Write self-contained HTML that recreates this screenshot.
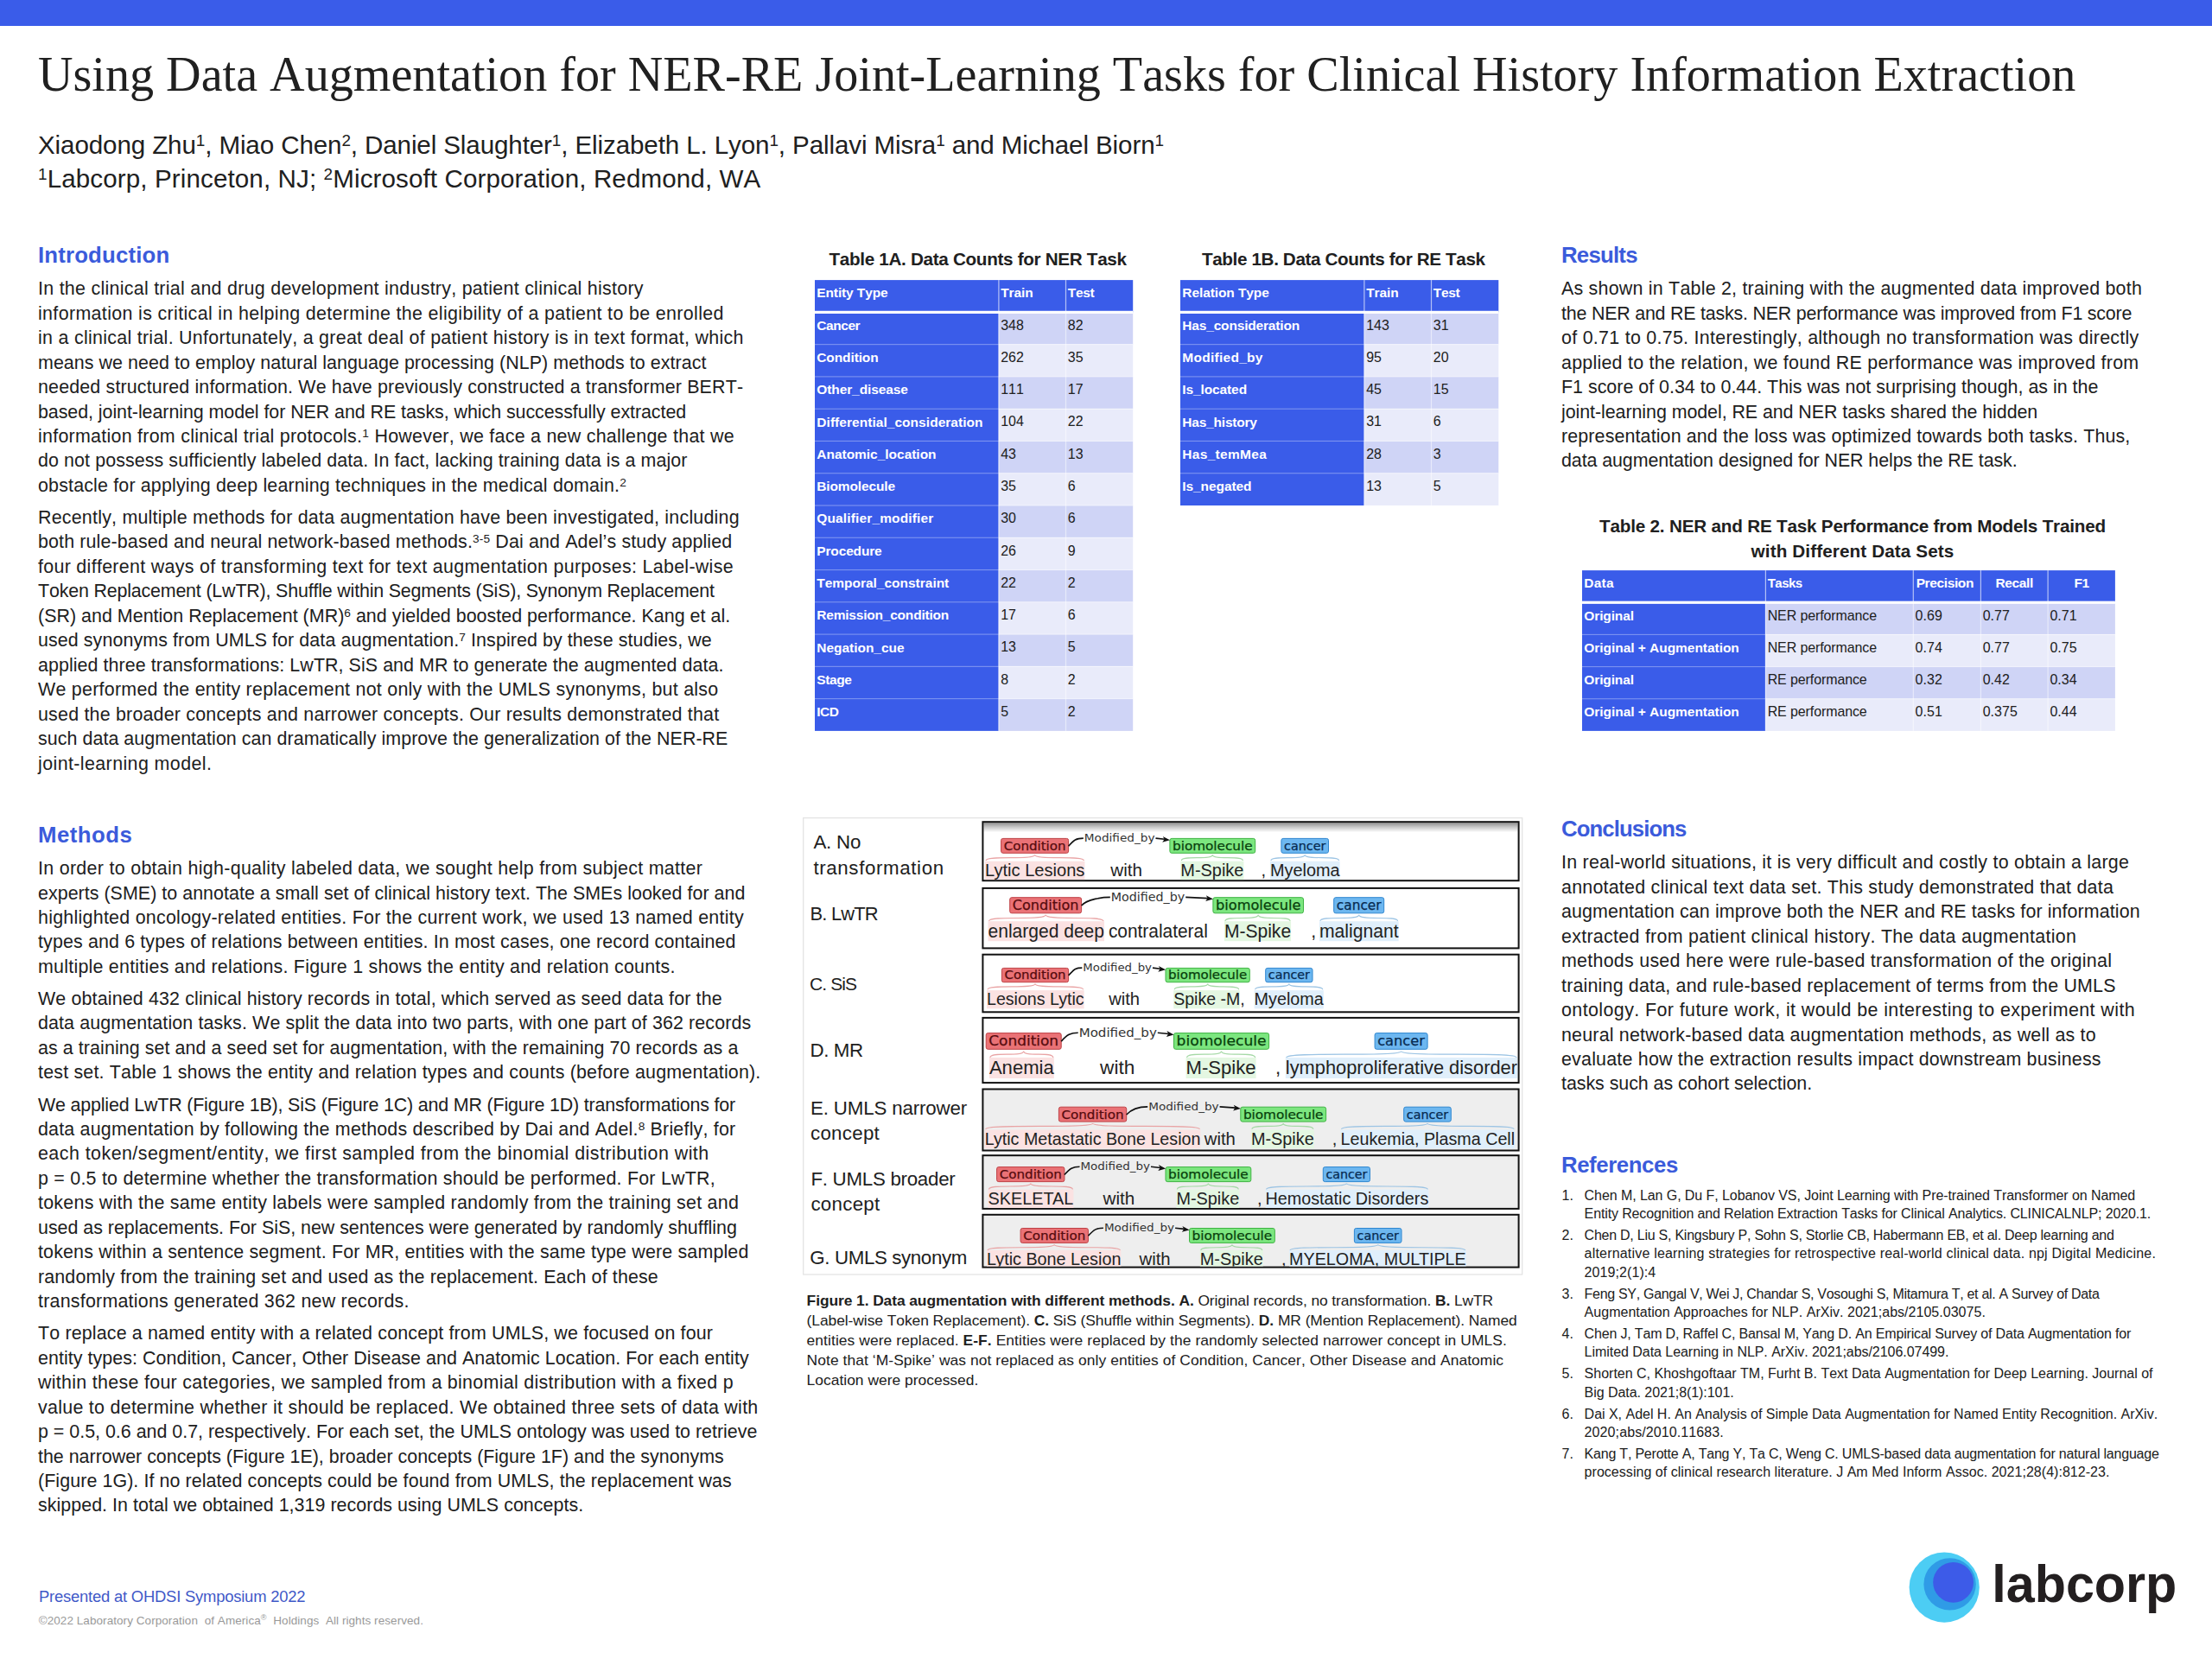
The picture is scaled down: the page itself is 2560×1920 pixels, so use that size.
<!DOCTYPE html>
<html lang="en"><head><meta charset="utf-8"><title>Using Data Augmentation for NER-RE Joint-Learning Tasks</title>
<style>
html,body{margin:0;padding:0;background:#fff;}
body{width:2560px;height:1920px;position:relative;overflow:hidden;font-family:'Liberation Sans', sans-serif;color:#202020;}
.t{position:absolute;white-space:nowrap;font-kerning:none;font-variant-ligatures:none;}
.r{position:absolute;}
sup{font-size:64%;line-height:0;vertical-align:baseline;position:relative;top:-0.45em;}
sup.reg{font-size:68%;top:-0.5em;padding:0;}
.fl{z-index:3;}
b{font-weight:bold;}
</style></head>
<body>
<svg style="position:absolute;left:900px;top:300px" width="1600" height="580" viewBox="900 300 1600 580"><rect x="943.00" y="324.10" width="368.20" height="37.27" fill="#3A5CE9"/><rect x="943.00" y="361.37" width="212.90" height="484.53" fill="#3A5CE9"/><rect x="1155.90" y="361.37" width="155.30" height="37.27" fill="#CFD4F6"/><rect x="1155.90" y="398.64" width="155.30" height="37.27" fill="#E9EBFA"/><rect x="1155.90" y="435.91" width="155.30" height="37.27" fill="#CFD4F6"/><rect x="1155.90" y="473.19" width="155.30" height="37.27" fill="#E9EBFA"/><rect x="1155.90" y="510.46" width="155.30" height="37.27" fill="#CFD4F6"/><rect x="1155.90" y="547.73" width="155.30" height="37.27" fill="#E9EBFA"/><rect x="1155.90" y="585.00" width="155.30" height="37.27" fill="#CFD4F6"/><rect x="1155.90" y="622.27" width="155.30" height="37.27" fill="#E9EBFA"/><rect x="1155.90" y="659.54" width="155.30" height="37.27" fill="#CFD4F6"/><rect x="1155.90" y="696.81" width="155.30" height="37.27" fill="#E9EBFA"/><rect x="1155.90" y="734.09" width="155.30" height="37.27" fill="#CFD4F6"/><rect x="1155.90" y="771.36" width="155.30" height="37.27" fill="#E9EBFA"/><rect x="1155.90" y="808.63" width="155.30" height="37.27" fill="#CFD4F6"/><rect x="943.00" y="398.09" width="212.90" height="1.1" fill="#fff" fill-opacity="0.34"/><rect x="1155.90" y="398.09" width="155.30" height="1.1" fill="#fff" fill-opacity="0.5"/><rect x="943.00" y="435.36" width="212.90" height="1.1" fill="#fff" fill-opacity="0.34"/><rect x="1155.90" y="435.36" width="155.30" height="1.1" fill="#fff" fill-opacity="0.5"/><rect x="943.00" y="472.64" width="212.90" height="1.1" fill="#fff" fill-opacity="0.34"/><rect x="1155.90" y="472.64" width="155.30" height="1.1" fill="#fff" fill-opacity="0.5"/><rect x="943.00" y="509.91" width="212.90" height="1.1" fill="#fff" fill-opacity="0.34"/><rect x="1155.90" y="509.91" width="155.30" height="1.1" fill="#fff" fill-opacity="0.5"/><rect x="943.00" y="547.18" width="212.90" height="1.1" fill="#fff" fill-opacity="0.34"/><rect x="1155.90" y="547.18" width="155.30" height="1.1" fill="#fff" fill-opacity="0.5"/><rect x="943.00" y="584.45" width="212.90" height="1.1" fill="#fff" fill-opacity="0.34"/><rect x="1155.90" y="584.45" width="155.30" height="1.1" fill="#fff" fill-opacity="0.5"/><rect x="943.00" y="621.72" width="212.90" height="1.1" fill="#fff" fill-opacity="0.34"/><rect x="1155.90" y="621.72" width="155.30" height="1.1" fill="#fff" fill-opacity="0.5"/><rect x="943.00" y="658.99" width="212.90" height="1.1" fill="#fff" fill-opacity="0.34"/><rect x="1155.90" y="658.99" width="155.30" height="1.1" fill="#fff" fill-opacity="0.5"/><rect x="943.00" y="696.26" width="212.90" height="1.1" fill="#fff" fill-opacity="0.34"/><rect x="1155.90" y="696.26" width="155.30" height="1.1" fill="#fff" fill-opacity="0.5"/><rect x="943.00" y="733.54" width="212.90" height="1.1" fill="#fff" fill-opacity="0.34"/><rect x="1155.90" y="733.54" width="155.30" height="1.1" fill="#fff" fill-opacity="0.5"/><rect x="943.00" y="770.81" width="212.90" height="1.1" fill="#fff" fill-opacity="0.34"/><rect x="1155.90" y="770.81" width="155.30" height="1.1" fill="#fff" fill-opacity="0.5"/><rect x="943.00" y="808.08" width="212.90" height="1.1" fill="#fff" fill-opacity="0.34"/><rect x="1155.90" y="808.08" width="155.30" height="1.1" fill="#fff" fill-opacity="0.5"/><rect x="1155.30" y="324.10" width="1.2" height="37.27" fill="#fff" fill-opacity="0.62"/><rect x="1155.30" y="361.37" width="1.2" height="484.53" fill="#fff" fill-opacity="0.62"/><rect x="1232.90" y="324.10" width="1.2" height="37.27" fill="#fff" fill-opacity="0.62"/><rect x="1232.90" y="361.37" width="1.2" height="484.53" fill="#fff" fill-opacity="0.5"/><rect x="943.00" y="359.77" width="368.20" height="3.2" fill="#fff"/><rect x="1366.00" y="324.10" width="368.30" height="37.27" fill="#3A5CE9"/><rect x="1366.00" y="361.37" width="212.90" height="223.63" fill="#3A5CE9"/><rect x="1578.90" y="361.37" width="155.40" height="37.27" fill="#CFD4F6"/><rect x="1578.90" y="398.64" width="155.40" height="37.27" fill="#E9EBFA"/><rect x="1578.90" y="435.91" width="155.40" height="37.27" fill="#CFD4F6"/><rect x="1578.90" y="473.19" width="155.40" height="37.27" fill="#E9EBFA"/><rect x="1578.90" y="510.46" width="155.40" height="37.27" fill="#CFD4F6"/><rect x="1578.90" y="547.73" width="155.40" height="37.27" fill="#E9EBFA"/><rect x="1366.00" y="398.09" width="212.90" height="1.1" fill="#fff" fill-opacity="0.34"/><rect x="1578.90" y="398.09" width="155.40" height="1.1" fill="#fff" fill-opacity="0.5"/><rect x="1366.00" y="435.36" width="212.90" height="1.1" fill="#fff" fill-opacity="0.34"/><rect x="1578.90" y="435.36" width="155.40" height="1.1" fill="#fff" fill-opacity="0.5"/><rect x="1366.00" y="472.64" width="212.90" height="1.1" fill="#fff" fill-opacity="0.34"/><rect x="1578.90" y="472.64" width="155.40" height="1.1" fill="#fff" fill-opacity="0.5"/><rect x="1366.00" y="509.91" width="212.90" height="1.1" fill="#fff" fill-opacity="0.34"/><rect x="1578.90" y="509.91" width="155.40" height="1.1" fill="#fff" fill-opacity="0.5"/><rect x="1366.00" y="547.18" width="212.90" height="1.1" fill="#fff" fill-opacity="0.34"/><rect x="1578.90" y="547.18" width="155.40" height="1.1" fill="#fff" fill-opacity="0.5"/><rect x="1578.30" y="324.10" width="1.2" height="37.27" fill="#fff" fill-opacity="0.62"/><rect x="1578.30" y="361.37" width="1.2" height="223.63" fill="#fff" fill-opacity="0.62"/><rect x="1655.90" y="324.10" width="1.2" height="37.27" fill="#fff" fill-opacity="0.62"/><rect x="1655.90" y="361.37" width="1.2" height="223.63" fill="#fff" fill-opacity="0.5"/><rect x="1366.00" y="359.77" width="368.30" height="3.2" fill="#fff"/><rect x="1831.00" y="660.10" width="616.90" height="37.16" fill="#3A5CE9"/><rect x="1831.00" y="697.26" width="212.40" height="148.64" fill="#3A5CE9"/><rect x="2043.40" y="697.26" width="404.50" height="37.16" fill="#CFD4F6"/><rect x="2043.40" y="734.42" width="404.50" height="37.16" fill="#E9EBFA"/><rect x="2043.40" y="771.58" width="404.50" height="37.16" fill="#CFD4F6"/><rect x="2043.40" y="808.74" width="404.50" height="37.16" fill="#E9EBFA"/><rect x="1831.00" y="733.87" width="212.40" height="1.1" fill="#fff" fill-opacity="0.34"/><rect x="2043.40" y="733.87" width="404.50" height="1.1" fill="#fff" fill-opacity="0.5"/><rect x="1831.00" y="771.03" width="212.40" height="1.1" fill="#fff" fill-opacity="0.34"/><rect x="2043.40" y="771.03" width="404.50" height="1.1" fill="#fff" fill-opacity="0.5"/><rect x="1831.00" y="808.19" width="212.40" height="1.1" fill="#fff" fill-opacity="0.34"/><rect x="2043.40" y="808.19" width="404.50" height="1.1" fill="#fff" fill-opacity="0.5"/><rect x="2042.80" y="660.10" width="1.2" height="37.16" fill="#fff" fill-opacity="0.62"/><rect x="2042.80" y="697.26" width="1.2" height="148.64" fill="#fff" fill-opacity="0.62"/><rect x="2213.70" y="660.10" width="1.2" height="37.16" fill="#fff" fill-opacity="0.62"/><rect x="2213.70" y="697.26" width="1.2" height="148.64" fill="#fff" fill-opacity="0.5"/><rect x="2291.80" y="660.10" width="1.2" height="37.16" fill="#fff" fill-opacity="0.62"/><rect x="2291.80" y="697.26" width="1.2" height="148.64" fill="#fff" fill-opacity="0.5"/><rect x="2369.50" y="660.10" width="1.2" height="37.16" fill="#fff" fill-opacity="0.62"/><rect x="2369.50" y="697.26" width="1.2" height="148.64" fill="#fff" fill-opacity="0.5"/><rect x="1831.00" y="695.66" width="616.90" height="3.2" fill="#fff"/></svg>
<div class="r" style="left:0.00px;top:0.00px;width:2560.00px;height:30.00px;background:#3A5CE9;"></div>
<div class="t" id="L1" style="left:44.00px;top:54.74px;font-size:56.13px;line-height:63.64px;font-family:'Liberation Serif', serif;letter-spacing:0.000px;">Using Data Augmentation for NER-RE Joint-Learning Tasks for Clinical History Information Extraction</div>
<div class="t" id="L2" style="left:44.00px;top:149.87px;font-size:29.57px;line-height:36.96px;letter-spacing:-0.109px;">Xiaodong Zhu<sup>1</sup>, Miao Chen<sup>2</sup>, Daniel Slaughter<sup>1</sup>, Elizabeth L. Lyon<sup>1</sup>, Pallavi Misra<sup>1</sup> and Michael Biorn<sup>1</sup></div>
<div class="t" id="L3" style="left:44.00px;top:188.77px;font-size:29.57px;line-height:36.96px;letter-spacing:0.116px;"><sup>1</sup>Labcorp, Princeton, NJ; <sup>2</sup>Microsoft Corporation, Redmond, WA</div>
<div class="t" id="L4" style="left:44.00px;top:279.16px;font-size:25.78px;line-height:33.22px;color:#3B5BDB;font-weight:bold;letter-spacing:0.176px;">Introduction</div>
<div class="t" id="L5" style="left:44.00px;top:321.29px;font-size:21.42px;line-height:26.78px;letter-spacing:0.278px;">In the clinical trial and drug development industry, patient clinical history</div>
<div class="t" id="L6" style="left:44.00px;top:349.74px;font-size:21.42px;line-height:26.78px;letter-spacing:0.353px;">information is critical in helping determine the eligibility of a patient to be enrolled</div>
<div class="t" id="L7" style="left:44.00px;top:378.19px;font-size:21.42px;line-height:26.78px;letter-spacing:0.290px;">in a clinical trial. Unfortunately, a great deal of patient history is in text format, which</div>
<div class="t" id="L8" style="left:44.00px;top:406.64px;font-size:21.42px;line-height:26.78px;letter-spacing:0.064px;">means we need to employ natural language processing (NLP) methods to extract</div>
<div class="t" id="L9" style="left:44.00px;top:435.09px;font-size:21.42px;line-height:26.78px;letter-spacing:0.162px;">needed structured information. We have previously constructed a transformer BERT-</div>
<div class="t" id="L10" style="left:44.00px;top:463.54px;font-size:21.42px;line-height:26.78px;letter-spacing:-0.054px;">based, joint-learning model for NER and RE tasks, which successfully extracted</div>
<div class="t" id="L11" style="left:44.00px;top:491.99px;font-size:21.42px;line-height:26.78px;letter-spacing:0.268px;">information from clinical trial protocols.<sup>1</sup> However, we face a new challenge that we</div>
<div class="t" id="L12" style="left:44.00px;top:520.44px;font-size:21.42px;line-height:26.78px;letter-spacing:0.095px;">do not possess sufficiently labeled data. In fact, lacking training data is a major</div>
<div class="t" id="L13" style="left:44.00px;top:548.89px;font-size:21.42px;line-height:26.78px;letter-spacing:0.168px;">obstacle for applying deep learning techniques in the medical domain.<sup>2</sup></div>
<div class="t" id="L14" style="left:44.00px;top:586.04px;font-size:21.42px;line-height:26.78px;letter-spacing:0.221px;">Recently, multiple methods for data augmentation have been investigated, including</div>
<div class="t" id="L15" style="left:44.00px;top:614.49px;font-size:21.42px;line-height:26.78px;letter-spacing:0.139px;">both rule-based and neural network-based methods.<sup>3-5</sup> Dai and Adel’s study applied</div>
<div class="t" id="L16" style="left:44.00px;top:642.94px;font-size:21.42px;line-height:26.78px;letter-spacing:0.308px;">four different ways of transforming text for text augmentation purposes: Label-wise</div>
<div class="t" id="L17" style="left:44.00px;top:671.39px;font-size:21.42px;line-height:26.78px;letter-spacing:-0.173px;">Token Replacement (LwTR), Shuffle within Segments (SiS), Synonym Replacement</div>
<div class="t" id="L18" style="left:44.00px;top:699.84px;font-size:21.42px;line-height:26.78px;letter-spacing:0.029px;">(SR) and Mention Replacement (MR)<sup>6</sup> and yielded boosted performance. Kang et al.</div>
<div class="t" id="L19" style="left:44.00px;top:728.29px;font-size:21.42px;line-height:26.78px;letter-spacing:0.092px;">used synonyms from UMLS for data augmentation.<sup>7</sup> Inspired by these studies, we</div>
<div class="t" id="L20" style="left:44.00px;top:756.74px;font-size:21.42px;line-height:26.78px;letter-spacing:0.072px;">applied three transformations: LwTR, SiS and MR to generate the augmented data.</div>
<div class="t" id="L21" style="left:44.00px;top:785.19px;font-size:21.42px;line-height:26.78px;letter-spacing:0.260px;">We performed the entity replacement not only with the UMLS synonyms, but also</div>
<div class="t" id="L22" style="left:44.00px;top:813.64px;font-size:21.42px;line-height:26.78px;letter-spacing:0.207px;">used the broader concepts and narrower concepts. Our results demonstrated that</div>
<div class="t" id="L23" style="left:44.00px;top:842.09px;font-size:21.42px;line-height:26.78px;letter-spacing:0.060px;">such data augmentation can dramatically improve the generalization of the NER-RE</div>
<div class="t" id="L24" style="left:44.00px;top:870.54px;font-size:21.42px;line-height:26.78px;letter-spacing:0.406px;">joint-learning model.</div>
<div class="t" id="L25" style="left:44.00px;top:950.36px;font-size:25.78px;line-height:33.22px;color:#3B5BDB;font-weight:bold;letter-spacing:0.498px;">Methods</div>
<div class="t" id="L26" style="left:44.00px;top:992.09px;font-size:21.42px;line-height:26.78px;letter-spacing:0.304px;">In order to obtain high-quality labeled data, we sought help from subject matter</div>
<div class="t" id="L27" style="left:44.00px;top:1020.54px;font-size:21.42px;line-height:26.78px;letter-spacing:0.039px;">experts (SME) to annotate a small set of clinical history text. The SMEs looked for and</div>
<div class="t" id="L28" style="left:44.00px;top:1048.99px;font-size:21.42px;line-height:26.78px;letter-spacing:0.263px;">highlighted oncology-related entities. For the current work, we used 13 named entity</div>
<div class="t" id="L29" style="left:44.00px;top:1077.44px;font-size:21.42px;line-height:26.78px;letter-spacing:0.138px;">types and 6 types of relations between entities. In most cases, one record contained</div>
<div class="t" id="L30" style="left:44.00px;top:1105.89px;font-size:21.42px;line-height:26.78px;letter-spacing:0.240px;">multiple entities and relations. Figure 1 shows the entity and relation counts.</div>
<div class="t" id="L31" style="left:44.00px;top:1143.04px;font-size:21.42px;line-height:26.78px;letter-spacing:0.148px;">We obtained 432 clinical history records in total, which served as seed data for the</div>
<div class="t" id="L32" style="left:44.00px;top:1171.49px;font-size:21.42px;line-height:26.78px;letter-spacing:0.117px;">data augmentation tasks. We split the data into two parts, with one part of 362 records</div>
<div class="t" id="L33" style="left:44.00px;top:1199.94px;font-size:21.42px;line-height:26.78px;letter-spacing:0.085px;">as a training set and a seed set for augmentation, with the remaining 70 records as a</div>
<div class="t" id="L34" style="left:44.00px;top:1228.39px;font-size:21.42px;line-height:26.78px;letter-spacing:0.191px;">test set. Table 1 shows the entity and relation types and counts (before augmentation).</div>
<div class="t" id="L35" style="left:44.00px;top:1265.54px;font-size:21.42px;line-height:26.78px;letter-spacing:-0.166px;">We applied LwTR (Figure 1B), SiS (Figure 1C) and MR (Figure 1D) transformations for</div>
<div class="t" id="L36" style="left:44.00px;top:1293.99px;font-size:21.42px;line-height:26.78px;letter-spacing:0.202px;">data augmentation by following the methods described by Dai and Adel.<sup>8</sup> Briefly, for</div>
<div class="t" id="L37" style="left:44.00px;top:1322.44px;font-size:21.42px;line-height:26.78px;letter-spacing:0.463px;">each token/segment/entity, we first sampled from the binomial distribution with</div>
<div class="t" id="L38" style="left:44.00px;top:1350.89px;font-size:21.42px;line-height:26.78px;letter-spacing:0.234px;">p = 0.5 to determine whether the transformation should be performed. For LwTR,</div>
<div class="t" id="L39" style="left:44.00px;top:1379.34px;font-size:21.42px;line-height:26.78px;letter-spacing:0.256px;">tokens with the same entity labels were sampled randomly from the training set and</div>
<div class="t" id="L40" style="left:44.00px;top:1407.79px;font-size:21.42px;line-height:26.78px;letter-spacing:-0.018px;">used as replacements. For SiS, new sentences were generated by randomly shuffling</div>
<div class="t" id="L41" style="left:44.00px;top:1436.24px;font-size:21.42px;line-height:26.78px;letter-spacing:0.164px;">tokens within a sentence segment. For MR, entities with the same type were sampled</div>
<div class="t" id="L42" style="left:44.00px;top:1464.69px;font-size:21.42px;line-height:26.78px;letter-spacing:0.135px;">randomly from the training set and used as the replacement. Each of these</div>
<div class="t" id="L43" style="left:44.00px;top:1493.14px;font-size:21.42px;line-height:26.78px;letter-spacing:0.230px;">transformations generated 362 new records.</div>
<div class="t" id="L44" style="left:44.00px;top:1530.29px;font-size:21.42px;line-height:26.78px;letter-spacing:0.160px;">To replace a named entity with a related concept from UMLS, we focused on four</div>
<div class="t" id="L45" style="left:44.00px;top:1558.74px;font-size:21.42px;line-height:26.78px;letter-spacing:0.062px;">entity types: Condition, Cancer, Other Disease and Anatomic Location. For each entity</div>
<div class="t" id="L46" style="left:44.00px;top:1587.19px;font-size:21.42px;line-height:26.78px;letter-spacing:0.304px;">within these four categories, we sampled from a binomial distribution with a fixed p</div>
<div class="t" id="L47" style="left:44.00px;top:1615.64px;font-size:21.42px;line-height:26.78px;letter-spacing:0.287px;">value to determine whether it should be replaced. We obtained three sets of data with</div>
<div class="t" id="L48" style="left:44.00px;top:1644.09px;font-size:21.42px;line-height:26.78px;letter-spacing:0.000px;">p = 0.5, 0.6 and 0.7, respectively. For each set, the UMLS ontology was used to retrieve</div>
<div class="t" id="L49" style="left:44.00px;top:1672.54px;font-size:21.42px;line-height:26.78px;letter-spacing:0.002px;">the narrower concepts (Figure 1E), broader concepts (Figure 1F) and the synonyms</div>
<div class="t" id="L50" style="left:44.00px;top:1700.99px;font-size:21.42px;line-height:26.78px;letter-spacing:0.084px;">(Figure 1G). If no related concepts could be found from UMLS, the replacement was</div>
<div class="t" id="L51" style="left:44.00px;top:1729.44px;font-size:21.42px;line-height:26.78px;letter-spacing:0.045px;">skipped. In total we obtained 1,319 records using UMLS concepts.</div>
<div class="t" id="L52" style="left:1807.00px;top:279.46px;font-size:25.78px;line-height:33.22px;color:#3B5BDB;font-weight:bold;letter-spacing:-0.768px;">Results</div>
<div class="t" id="L53" style="left:1807.00px;top:321.29px;font-size:21.42px;line-height:26.78px;letter-spacing:0.227px;">As shown in Table 2, training with the augmented data improved both</div>
<div class="t" id="L54" style="left:1807.00px;top:349.74px;font-size:21.42px;line-height:26.78px;letter-spacing:-0.206px;">the NER and RE tasks. NER performance was improved from F1 score</div>
<div class="t" id="L55" style="left:1807.00px;top:378.19px;font-size:21.42px;line-height:26.78px;letter-spacing:0.283px;">of 0.71 to 0.75. Interestingly, although no transformation was directly</div>
<div class="t" id="L56" style="left:1807.00px;top:406.64px;font-size:21.42px;line-height:26.78px;letter-spacing:0.248px;">applied to the relation, we found RE performance was improved from</div>
<div class="t" id="L57" style="left:1807.00px;top:435.09px;font-size:21.42px;line-height:26.78px;letter-spacing:0.003px;">F1 score of 0.34 to 0.44. This was not surprising though, as in the</div>
<div class="t" id="L58" style="left:1807.00px;top:463.54px;font-size:21.42px;line-height:26.78px;letter-spacing:-0.059px;">joint-learning model, RE and NER tasks shared the hidden</div>
<div class="t" id="L59" style="left:1807.00px;top:491.99px;font-size:21.42px;line-height:26.78px;letter-spacing:0.131px;">representation and the loss was optimized towards both tasks. Thus,</div>
<div class="t" id="L60" style="left:1807.00px;top:520.44px;font-size:21.42px;line-height:26.78px;letter-spacing:-0.082px;">data augmentation designed for NER helps the RE task.</div>
<div class="t" id="L61" style="left:1807.00px;top:942.57px;font-size:25.73px;line-height:33.22px;color:#3B5BDB;font-weight:bold;letter-spacing:-0.900px;">Conclusions</div>
<div class="t" id="L62" style="left:1807.00px;top:985.39px;font-size:21.42px;line-height:26.78px;letter-spacing:0.243px;">In real-world situations, it is very difficult and costly to obtain a large</div>
<div class="t" id="L63" style="left:1807.00px;top:1013.84px;font-size:21.42px;line-height:26.78px;letter-spacing:0.232px;">annotated clinical text data set. This study demonstrated that data</div>
<div class="t" id="L64" style="left:1807.00px;top:1042.29px;font-size:21.42px;line-height:26.78px;letter-spacing:0.106px;">augmentation can improve both the NER and RE tasks for information</div>
<div class="t" id="L65" style="left:1807.00px;top:1070.74px;font-size:21.42px;line-height:26.78px;letter-spacing:0.288px;">extracted from patient clinical history. The data augmentation</div>
<div class="t" id="L66" style="left:1807.00px;top:1099.19px;font-size:21.42px;line-height:26.78px;letter-spacing:0.269px;">methods used here were rule-based transformation of the original</div>
<div class="t" id="L67" style="left:1807.00px;top:1127.64px;font-size:21.42px;line-height:26.78px;letter-spacing:0.191px;">training data, and rule-based replacement of terms from the UMLS</div>
<div class="t" id="L68" style="left:1807.00px;top:1156.09px;font-size:21.42px;line-height:26.78px;letter-spacing:0.416px;">ontology. For future work, it would be interesting to experiment with</div>
<div class="t" id="L69" style="left:1807.00px;top:1184.54px;font-size:21.42px;line-height:26.78px;letter-spacing:0.196px;">neural network-based data augmentation methods, as well as to</div>
<div class="t" id="L70" style="left:1807.00px;top:1212.99px;font-size:21.42px;line-height:26.78px;letter-spacing:0.213px;">evaluate how the extraction results impact downstream business</div>
<div class="t" id="L71" style="left:1807.00px;top:1241.44px;font-size:21.42px;line-height:26.78px;letter-spacing:-0.047px;">tasks such as cohort selection.</div>
<div class="t" id="L72" style="left:1807.00px;top:1332.06px;font-size:25.78px;line-height:33.22px;color:#3B5BDB;font-weight:bold;letter-spacing:-0.409px;">References</div>
<div class="t" id="L73" style="left:1807.50px;top:1373.55px;font-size:16.01px;line-height:20.01px;letter-spacing:0.031px;">1.</div>
<div class="t" id="L74" style="left:1833.60px;top:1373.55px;font-size:16.01px;line-height:20.01px;letter-spacing:-0.074px;">Chen M, Lan G, Du F, Lobanov VS, Joint Learning with Pre-trained Transformer on Named</div>
<div class="t" id="L75" style="left:1833.60px;top:1395.00px;font-size:16.01px;line-height:20.01px;letter-spacing:-0.132px;">Entity Recognition and Relation Extraction Tasks for Clinical Analytics. CLINICALNLP; 2020.1.</div>
<div class="t" id="L76" style="left:1807.50px;top:1419.85px;font-size:16.01px;line-height:20.01px;letter-spacing:0.031px;">2.</div>
<div class="t" id="L77" style="left:1833.60px;top:1419.85px;font-size:16.01px;line-height:20.01px;letter-spacing:-0.245px;">Chen D, Liu S, Kingsbury P, Sohn S, Storlie CB, Habermann EB, et al. Deep learning and</div>
<div class="t" id="L78" style="left:1833.60px;top:1441.30px;font-size:16.01px;line-height:20.01px;letter-spacing:0.191px;">alternative learning strategies for retrospective real-world clinical data. npj Digital Medicine.</div>
<div class="t" id="L79" style="left:1833.60px;top:1462.75px;font-size:16.01px;line-height:20.01px;letter-spacing:0.081px;">2019;2(1):4</div>
<div class="t" id="L80" style="left:1807.50px;top:1487.60px;font-size:16.01px;line-height:20.01px;letter-spacing:0.031px;">3.</div>
<div class="t" id="L81" style="left:1833.60px;top:1487.60px;font-size:16.01px;line-height:20.01px;letter-spacing:-0.305px;">Feng SY, Gangal V, Wei J, Chandar S, Vosoughi S, Mitamura T, et al. A Survey of Data</div>
<div class="t" id="L82" style="left:1833.60px;top:1509.05px;font-size:16.01px;line-height:20.01px;letter-spacing:0.029px;">Augmentation Approaches for NLP. ArXiv. 2021;abs/2105.03075.</div>
<div class="t" id="L83" style="left:1807.50px;top:1533.90px;font-size:16.01px;line-height:20.01px;letter-spacing:0.031px;">4.</div>
<div class="t" id="L84" style="left:1833.60px;top:1533.90px;font-size:16.01px;line-height:20.01px;letter-spacing:-0.171px;">Chen J, Tam D, Raffel C, Bansal M, Yang D. An Empirical Survey of Data Augmentation for</div>
<div class="t" id="L85" style="left:1833.60px;top:1555.35px;font-size:16.01px;line-height:20.01px;letter-spacing:-0.044px;">Limited Data Learning in NLP. ArXiv. 2021;abs/2106.07499.</div>
<div class="t" id="L86" style="left:1807.50px;top:1580.20px;font-size:16.01px;line-height:20.01px;letter-spacing:0.031px;">5.</div>
<div class="t" id="L87" style="left:1833.60px;top:1580.20px;font-size:16.01px;line-height:20.01px;letter-spacing:-0.002px;">Shorten C, Khoshgoftaar TM, Furht B. Text Data Augmentation for Deep Learning. Journal of</div>
<div class="t" id="L88" style="left:1833.60px;top:1601.65px;font-size:16.01px;line-height:20.01px;letter-spacing:-0.051px;">Big Data. 2021;8(1):101.</div>
<div class="t" id="L89" style="left:1807.50px;top:1626.50px;font-size:16.01px;line-height:20.01px;letter-spacing:0.031px;">6.</div>
<div class="t" id="L90" style="left:1833.60px;top:1626.50px;font-size:16.01px;line-height:20.01px;letter-spacing:-0.019px;">Dai X, Adel H. An Analysis of Simple Data Augmentation for Named Entity Recognition. ArXiv.</div>
<div class="t" id="L91" style="left:1833.60px;top:1647.95px;font-size:16.01px;line-height:20.01px;letter-spacing:0.102px;">2020;abs/2010.11683.</div>
<div class="t" id="L92" style="left:1807.50px;top:1672.80px;font-size:16.01px;line-height:20.01px;letter-spacing:0.031px;">7.</div>
<div class="t" id="L93" style="left:1833.60px;top:1672.80px;font-size:16.01px;line-height:20.01px;letter-spacing:-0.210px;">Kang T, Perotte A, Tang Y, Ta C, Weng C. UMLS-based data augmentation for natural language</div>
<div class="t" id="L94" style="left:1833.60px;top:1694.25px;font-size:16.01px;line-height:20.01px;letter-spacing:0.037px;">processing of clinical research literature. J Am Med Inform Assoc. 2021;28(4):812-23.</div>
<div class="t" id="L95" style="left:933.60px;top:1494.58px;font-size:17.41px;line-height:21.77px;letter-spacing:-0.084px;"><b>Figure 1. Data augmentation with different methods. A.</b> Original records, no transformation. <b>B.</b> LwTR</div>
<div class="t" id="L96" style="left:933.60px;top:1517.73px;font-size:17.41px;line-height:21.77px;letter-spacing:-0.061px;">(Label-wise Token Replacement). <b>C.</b> SiS (Shuffle within Segments). <b>D.</b> MR (Mention Replacement). Named</div>
<div class="t" id="L97" style="left:933.60px;top:1540.88px;font-size:17.41px;line-height:21.77px;letter-spacing:0.081px;">entities were replaced. <b>E-F.</b> Entities were replaced by the randomly selected narrower concept in UMLS.</div>
<div class="t" id="L98" style="left:933.60px;top:1564.03px;font-size:17.41px;line-height:21.77px;letter-spacing:0.072px;">Note that ‘M-Spike’ was not replaced as only entities of Condition, Cancer, Other Disease and Anatomic</div>
<div class="t" id="L99" style="left:933.60px;top:1587.18px;font-size:17.41px;line-height:21.77px;letter-spacing:0.016px;">Location were processed.</div>
<div class="t" id="L100" style="left:1131.60px;top:286.91px;font-size:20.68px;line-height:26.64px;font-weight:bold;transform:translateX(-50%);letter-spacing:-0.315px;">Table 1A. Data Counts for NER Task</div>
<div class="t" id="L101" style="left:1554.80px;top:286.91px;font-size:20.68px;line-height:26.64px;font-weight:bold;transform:translateX(-50%);letter-spacing:-0.374px;">Table 1B. Data Counts for RE Task</div>
<div class="t" id="L102" style="left:945.30px;top:329.06px;font-size:15.49px;line-height:19.95px;color:#fff;font-weight:bold;letter-spacing:-0.115px;">Entity Type</div>
<div class="t" id="L103" style="left:1158.20px;top:329.06px;font-size:15.49px;line-height:19.95px;color:#fff;font-weight:bold;letter-spacing:-0.087px;">Train</div>
<div class="t" id="L104" style="left:1235.80px;top:329.06px;font-size:15.49px;line-height:19.95px;color:#fff;font-weight:bold;letter-spacing:-0.289px;">Test</div>
<div class="t" id="L105" style="left:945.30px;top:366.83px;font-size:15.49px;line-height:19.95px;color:#fff;font-weight:bold;letter-spacing:-0.432px;">Cancer</div>
<div class="t" id="L106" style="left:1158.20px;top:366.67px;font-size:15.96px;line-height:19.95px;letter-spacing:0.047px;">348</div>
<div class="t" id="L107" style="left:1235.80px;top:366.67px;font-size:15.96px;line-height:19.95px;letter-spacing:0.047px;">82</div>
<div class="t" id="L108" style="left:945.30px;top:404.10px;font-size:15.49px;line-height:19.95px;color:#fff;font-weight:bold;letter-spacing:-0.106px;">Condition</div>
<div class="t" id="L109" style="left:1158.20px;top:403.94px;font-size:15.96px;line-height:19.95px;letter-spacing:0.047px;">262</div>
<div class="t" id="L110" style="left:1235.80px;top:403.94px;font-size:15.96px;line-height:19.95px;letter-spacing:0.047px;">35</div>
<div class="t" id="L111" style="left:945.30px;top:441.37px;font-size:15.49px;line-height:19.95px;color:#fff;font-weight:bold;letter-spacing:-0.094px;">Other_disease</div>
<div class="t" id="L112" style="left:1158.20px;top:441.21px;font-size:15.96px;line-height:19.95px;letter-spacing:0.047px;">111</div>
<div class="t" id="L113" style="left:1235.80px;top:441.21px;font-size:15.96px;line-height:19.95px;letter-spacing:0.047px;">17</div>
<div class="t" id="L114" style="left:945.30px;top:478.64px;font-size:15.49px;line-height:19.95px;color:#fff;font-weight:bold;letter-spacing:0.050px;">Differential_consideration</div>
<div class="t" id="L115" style="left:1158.20px;top:478.48px;font-size:15.96px;line-height:19.95px;letter-spacing:0.047px;">104</div>
<div class="t" id="L116" style="left:1235.80px;top:478.48px;font-size:15.96px;line-height:19.95px;letter-spacing:0.047px;">22</div>
<div class="t" id="L117" style="left:945.30px;top:515.92px;font-size:15.49px;line-height:19.95px;color:#fff;font-weight:bold;letter-spacing:-0.016px;">Anatomic_location</div>
<div class="t" id="L118" style="left:1158.20px;top:515.75px;font-size:15.96px;line-height:19.95px;letter-spacing:0.047px;">43</div>
<div class="t" id="L119" style="left:1235.80px;top:515.75px;font-size:15.96px;line-height:19.95px;letter-spacing:0.047px;">13</div>
<div class="t" id="L120" style="left:945.30px;top:553.19px;font-size:15.49px;line-height:19.95px;color:#fff;font-weight:bold;letter-spacing:-0.136px;">Biomolecule</div>
<div class="t" id="L121" style="left:1158.20px;top:553.02px;font-size:15.96px;line-height:19.95px;letter-spacing:0.047px;">35</div>
<div class="t" id="L122" style="left:1235.80px;top:553.02px;font-size:15.96px;line-height:19.95px;letter-spacing:0.047px;">6</div>
<div class="t" id="L123" style="left:945.30px;top:590.46px;font-size:15.49px;line-height:19.95px;color:#fff;font-weight:bold;letter-spacing:0.146px;">Qualifier_modifier</div>
<div class="t" id="L124" style="left:1158.20px;top:590.29px;font-size:15.96px;line-height:19.95px;letter-spacing:0.047px;">30</div>
<div class="t" id="L125" style="left:1235.80px;top:590.29px;font-size:15.96px;line-height:19.95px;letter-spacing:0.047px;">6</div>
<div class="t" id="L126" style="left:945.30px;top:627.73px;font-size:15.49px;line-height:19.95px;color:#fff;font-weight:bold;letter-spacing:-0.144px;">Procedure</div>
<div class="t" id="L127" style="left:1158.20px;top:627.57px;font-size:15.96px;line-height:19.95px;letter-spacing:0.047px;">26</div>
<div class="t" id="L128" style="left:1235.80px;top:627.57px;font-size:15.96px;line-height:19.95px;letter-spacing:0.047px;">9</div>
<div class="t" id="L129" style="left:945.30px;top:665.00px;font-size:15.49px;line-height:19.95px;color:#fff;font-weight:bold;letter-spacing:-0.010px;">Temporal_constraint</div>
<div class="t" id="L130" style="left:1158.20px;top:664.84px;font-size:15.96px;line-height:19.95px;letter-spacing:0.047px;">22</div>
<div class="t" id="L131" style="left:1235.80px;top:664.84px;font-size:15.96px;line-height:19.95px;letter-spacing:0.047px;">2</div>
<div class="t" id="L132" style="left:945.30px;top:702.27px;font-size:15.49px;line-height:19.95px;color:#fff;font-weight:bold;letter-spacing:-0.201px;">Remission_condition</div>
<div class="t" id="L133" style="left:1158.20px;top:702.11px;font-size:15.96px;line-height:19.95px;letter-spacing:0.047px;">17</div>
<div class="t" id="L134" style="left:1235.80px;top:702.11px;font-size:15.96px;line-height:19.95px;letter-spacing:0.047px;">6</div>
<div class="t" id="L135" style="left:945.30px;top:739.54px;font-size:15.49px;line-height:19.95px;color:#fff;font-weight:bold;letter-spacing:-0.027px;">Negation_cue</div>
<div class="t" id="L136" style="left:1158.20px;top:739.38px;font-size:15.96px;line-height:19.95px;letter-spacing:0.047px;">13</div>
<div class="t" id="L137" style="left:1235.80px;top:739.38px;font-size:15.96px;line-height:19.95px;letter-spacing:0.047px;">5</div>
<div class="t" id="L138" style="left:945.30px;top:776.82px;font-size:15.49px;line-height:19.95px;color:#fff;font-weight:bold;letter-spacing:-0.372px;">Stage</div>
<div class="t" id="L139" style="left:1158.20px;top:776.65px;font-size:15.96px;line-height:19.95px;letter-spacing:0.047px;">8</div>
<div class="t" id="L140" style="left:1235.80px;top:776.65px;font-size:15.96px;line-height:19.95px;letter-spacing:0.047px;">2</div>
<div class="t" id="L141" style="left:945.30px;top:814.09px;font-size:15.49px;line-height:19.95px;color:#fff;font-weight:bold;letter-spacing:-0.526px;">ICD</div>
<div class="t" id="L142" style="left:1158.20px;top:813.92px;font-size:15.96px;line-height:19.95px;letter-spacing:0.047px;">5</div>
<div class="t" id="L143" style="left:1235.80px;top:813.92px;font-size:15.96px;line-height:19.95px;letter-spacing:0.047px;">2</div>
<div class="t" id="L144" style="left:1368.30px;top:329.06px;font-size:15.49px;line-height:19.95px;color:#fff;font-weight:bold;letter-spacing:-0.085px;">Relation Type</div>
<div class="t" id="L145" style="left:1581.20px;top:329.06px;font-size:15.49px;line-height:19.95px;color:#fff;font-weight:bold;letter-spacing:-0.087px;">Train</div>
<div class="t" id="L146" style="left:1658.80px;top:329.06px;font-size:15.49px;line-height:19.95px;color:#fff;font-weight:bold;letter-spacing:-0.289px;">Test</div>
<div class="t" id="L147" style="left:1368.30px;top:366.83px;font-size:15.49px;line-height:19.95px;color:#fff;font-weight:bold;letter-spacing:-0.165px;">Has_consideration</div>
<div class="t" id="L148" style="left:1581.20px;top:366.67px;font-size:15.96px;line-height:19.95px;letter-spacing:0.047px;">143</div>
<div class="t" id="L149" style="left:1658.80px;top:366.67px;font-size:15.96px;line-height:19.95px;letter-spacing:0.047px;">31</div>
<div class="t" id="L150" style="left:1368.30px;top:404.10px;font-size:15.49px;line-height:19.95px;color:#fff;font-weight:bold;letter-spacing:0.273px;">Modified_by</div>
<div class="t" id="L151" style="left:1581.20px;top:403.94px;font-size:15.96px;line-height:19.95px;letter-spacing:0.047px;">95</div>
<div class="t" id="L152" style="left:1658.80px;top:403.94px;font-size:15.96px;line-height:19.95px;letter-spacing:0.047px;">20</div>
<div class="t" id="L153" style="left:1368.30px;top:441.37px;font-size:15.49px;line-height:19.95px;color:#fff;font-weight:bold;letter-spacing:-0.105px;">Is_located</div>
<div class="t" id="L154" style="left:1581.20px;top:441.21px;font-size:15.96px;line-height:19.95px;letter-spacing:0.047px;">45</div>
<div class="t" id="L155" style="left:1658.80px;top:441.21px;font-size:15.96px;line-height:19.95px;letter-spacing:0.047px;">15</div>
<div class="t" id="L156" style="left:1368.30px;top:478.64px;font-size:15.49px;line-height:19.95px;color:#fff;font-weight:bold;letter-spacing:-0.196px;">Has_history</div>
<div class="t" id="L157" style="left:1581.20px;top:478.48px;font-size:15.96px;line-height:19.95px;letter-spacing:0.047px;">31</div>
<div class="t" id="L158" style="left:1658.80px;top:478.48px;font-size:15.96px;line-height:19.95px;letter-spacing:0.047px;">6</div>
<div class="t" id="L159" style="left:1368.30px;top:515.92px;font-size:15.49px;line-height:19.95px;color:#fff;font-weight:bold;letter-spacing:0.308px;">Has_temMea</div>
<div class="t" id="L160" style="left:1581.20px;top:515.75px;font-size:15.96px;line-height:19.95px;letter-spacing:0.047px;">28</div>
<div class="t" id="L161" style="left:1658.80px;top:515.75px;font-size:15.96px;line-height:19.95px;letter-spacing:0.047px;">3</div>
<div class="t" id="L162" style="left:1368.30px;top:553.19px;font-size:15.49px;line-height:19.95px;color:#fff;font-weight:bold;letter-spacing:-0.070px;">Is_negated</div>
<div class="t" id="L163" style="left:1581.20px;top:553.02px;font-size:15.96px;line-height:19.95px;letter-spacing:0.047px;">13</div>
<div class="t" id="L164" style="left:1658.80px;top:553.02px;font-size:15.96px;line-height:19.95px;letter-spacing:0.047px;">5</div>
<div class="t" id="L165" style="left:2144.00px;top:595.71px;font-size:20.68px;line-height:26.64px;font-weight:bold;transform:translateX(-50%);letter-spacing:-0.205px;">Table 2. NER and RE Task Performance from Models Trained</div>
<div class="t" id="L166" style="left:2144.00px;top:624.51px;font-size:20.68px;line-height:26.64px;font-weight:bold;transform:translateX(-50%);letter-spacing:0.117px;">with Different Data Sets</div>
<div class="t" id="L167" style="left:1833.30px;top:665.06px;font-size:15.49px;line-height:19.95px;color:#fff;font-weight:bold;letter-spacing:0.250px;">Data</div>
<div class="t" id="L168" style="left:2045.70px;top:665.21px;font-size:15.06px;line-height:19.95px;color:#fff;font-weight:bold;letter-spacing:-0.558px;">Tasks</div>
<div class="t" id="L169" style="left:2250.85px;top:665.06px;font-size:15.49px;line-height:19.95px;color:#fff;font-weight:bold;transform:translateX(-50%);letter-spacing:-0.368px;">Precision</div>
<div class="t" id="L170" style="left:2331.25px;top:665.06px;font-size:15.49px;line-height:19.95px;color:#fff;font-weight:bold;transform:translateX(-50%);letter-spacing:-0.362px;">Recall</div>
<div class="t" id="L171" style="left:2409.00px;top:665.06px;font-size:15.49px;line-height:19.95px;color:#fff;font-weight:bold;transform:translateX(-50%);letter-spacing:-0.539px;">F1</div>
<div class="t" id="L172" style="left:1833.30px;top:702.72px;font-size:15.49px;line-height:19.95px;color:#fff;font-weight:bold;letter-spacing:-0.115px;">Original</div>
<div class="t" id="L173" style="left:2045.70px;top:702.55px;font-size:15.96px;line-height:19.95px;letter-spacing:-0.091px;">NER performance</div>
<div class="t" id="L174" style="left:2216.60px;top:702.55px;font-size:15.96px;line-height:19.95px;letter-spacing:0.035px;">0.69</div>
<div class="t" id="L175" style="left:2294.70px;top:702.55px;font-size:15.96px;line-height:19.95px;letter-spacing:0.035px;">0.77</div>
<div class="t" id="L176" style="left:2372.40px;top:702.55px;font-size:15.96px;line-height:19.95px;letter-spacing:0.035px;">0.71</div>
<div class="t" id="L177" style="left:1833.30px;top:739.88px;font-size:15.49px;line-height:19.95px;color:#fff;font-weight:bold;letter-spacing:-0.033px;">Original + Augmentation</div>
<div class="t" id="L178" style="left:2045.70px;top:739.71px;font-size:15.96px;line-height:19.95px;letter-spacing:-0.091px;">NER performance</div>
<div class="t" id="L179" style="left:2216.60px;top:739.71px;font-size:15.96px;line-height:19.95px;letter-spacing:0.035px;">0.74</div>
<div class="t" id="L180" style="left:2294.70px;top:739.71px;font-size:15.96px;line-height:19.95px;letter-spacing:0.035px;">0.77</div>
<div class="t" id="L181" style="left:2372.40px;top:739.71px;font-size:15.96px;line-height:19.95px;letter-spacing:0.035px;">0.75</div>
<div class="t" id="L182" style="left:1833.30px;top:777.04px;font-size:15.49px;line-height:19.95px;color:#fff;font-weight:bold;letter-spacing:-0.115px;">Original</div>
<div class="t" id="L183" style="left:2045.70px;top:776.87px;font-size:15.96px;line-height:19.95px;letter-spacing:-0.086px;">RE performance</div>
<div class="t" id="L184" style="left:2216.60px;top:776.87px;font-size:15.96px;line-height:19.95px;letter-spacing:0.035px;">0.32</div>
<div class="t" id="L185" style="left:2294.70px;top:776.87px;font-size:15.96px;line-height:19.95px;letter-spacing:0.035px;">0.42</div>
<div class="t" id="L186" style="left:2372.40px;top:776.87px;font-size:15.96px;line-height:19.95px;letter-spacing:0.035px;">0.34</div>
<div class="t" id="L187" style="left:1833.30px;top:814.20px;font-size:15.49px;line-height:19.95px;color:#fff;font-weight:bold;letter-spacing:-0.033px;">Original + Augmentation</div>
<div class="t" id="L188" style="left:2045.70px;top:814.03px;font-size:15.96px;line-height:19.95px;letter-spacing:-0.086px;">RE performance</div>
<div class="t" id="L189" style="left:2216.60px;top:814.03px;font-size:15.96px;line-height:19.95px;letter-spacing:0.035px;">0.51</div>
<div class="t" id="L190" style="left:2294.70px;top:814.03px;font-size:15.96px;line-height:19.95px;letter-spacing:0.041px;">0.375</div>
<div class="t" id="L191" style="left:2372.40px;top:814.03px;font-size:15.96px;line-height:19.95px;letter-spacing:0.035px;">0.44</div>
<div class="t fl" id="L192" style="left:941.40px;top:961.12px;font-size:22.31px;line-height:27.89px;letter-spacing:-0.184px;">A. No</div>
<div class="t fl" id="L193" style="left:941.40px;top:991.22px;font-size:22.31px;line-height:27.89px;letter-spacing:0.634px;">transformation</div>
<div class="t fl" id="L194" style="left:937.50px;top:1044.17px;font-size:21.89px;line-height:27.89px;letter-spacing:-0.784px;">B. LwTR</div>
<div class="t fl" id="L195" style="left:937.10px;top:1125.09px;font-size:20.97px;line-height:27.89px;letter-spacing:-0.900px;">C. SiS</div>
<div class="t fl" id="L196" style="left:937.50px;top:1202.12px;font-size:22.31px;line-height:27.89px;letter-spacing:-0.378px;">D. MR</div>
<div class="t fl" id="L197" style="left:938.00px;top:1269.12px;font-size:22.31px;line-height:27.89px;letter-spacing:-0.149px;">E. UMLS narrower</div>
<div class="t fl" id="L198" style="left:938.00px;top:1298.32px;font-size:22.31px;line-height:27.89px;letter-spacing:0.286px;">concept</div>
<div class="t fl" id="L199" style="left:938.40px;top:1350.82px;font-size:22.31px;line-height:27.89px;letter-spacing:-0.264px;">F. UMLS broader</div>
<div class="t fl" id="L200" style="left:938.40px;top:1379.92px;font-size:22.31px;line-height:27.89px;letter-spacing:0.286px;">concept</div>
<div class="t fl" id="L201" style="left:937.30px;top:1441.72px;font-size:22.31px;line-height:27.89px;letter-spacing:-0.365px;">G. UMLS synonym</div>
<div class="t" id="L202" style="left:45.00px;top:1836.01px;font-size:18.41px;line-height:23.02px;color:#3F59C8;letter-spacing:-0.206px;">Presented at OHDSI Symposium 2022</div>
<div class="t" id="L203" style="left:44.70px;top:1867.67px;font-size:13.51px;line-height:16.89px;color:#999999;letter-spacing:0.063px;">©2022 Laboratory Corporation&nbsp; of America<sup class="reg">®</sup>&nbsp; Holdings&nbsp; All rights reserved.</div>
<svg style="position:absolute;left:925px;top:940px" width="845" height="545" viewBox="925 940 845 545" font-family="'Liberation Sans', sans-serif">
<defs><linearGradient id="sh" x1="0" y1="0" x2="0" y2="1"><stop offset="0" stop-color="#000" stop-opacity="0.44"/><stop offset="0.45" stop-color="#000" stop-opacity="0.22"/><stop offset="1" stop-color="#000" stop-opacity="0"/></linearGradient>
<clipPath id="c0"><rect x="1138.4" y="952.2" width="618.2" height="66.0"/></clipPath>
<clipPath id="c1"><rect x="1138.4" y="1028.9" width="618.2" height="67.5"/></clipPath>
<clipPath id="c2"><rect x="1138.4" y="1105.7" width="618.2" height="64.6"/></clipPath>
<clipPath id="c3"><rect x="1138.4" y="1178.9" width="618.2" height="73.2"/></clipPath>
<clipPath id="c4"><rect x="1138.4" y="1261.5" width="618.2" height="69.0"/></clipPath>
<clipPath id="c5"><rect x="1138.4" y="1338.2" width="618.2" height="59.7"/></clipPath>
<clipPath id="c6"><rect x="1138.4" y="1406.8" width="618.2" height="58.8"/></clipPath>
</defs>
<rect x="929.7" y="946.6" width="832" height="528.4" fill="#fff" stroke="#E2E2E2" stroke-width="1.2"/>
<rect x="1137.40" y="951.20" width="620.20" height="68.00" fill="#FFFFFF" stroke="#111" stroke-width="2.0"/>
<rect x="1138.40" y="952.20" width="618.20" height="11" fill="url(#sh)"/>
<g clip-path="url(#c0)">
<rect x="1140.0" y="996.7" width="115.4" height="21.6" fill="#FBE2E2"/>
<path d="M1141.0 996.0C1141.0 989.2 1197.6 996.0 1197.6 989.2C1197.6 996.0 1254.4 989.2 1254.4 996.0" fill="none" stroke="#E9A3A4" stroke-width="1.1"/>
<rect x="1366.3" y="996.7" width="73.1" height="21.6" fill="#E4F7E2"/>
<path d="M1367.3 996.0C1367.3 989.2 1403.3 996.0 1403.3 989.2C1403.3 996.0 1438.4 989.2 1438.4 996.0" fill="none" stroke="#A5D9A6" stroke-width="1.1"/>
<rect x="1469.9" y="996.7" width="80.7" height="21.6" fill="#E0EFFB"/>
<path d="M1470.9 996.0C1470.9 989.2 1510.2 996.0 1510.2 989.2C1510.2 996.0 1549.6 989.2 1549.6 996.0" fill="none" stroke="#9CC4E4" stroke-width="1.1"/>
<text x="1140.0" y="1013.9" font-size="20.0" fill="#222" textLength="115.4" lengthAdjust="spacingAndGlyphs">Lytic Lesions</text>
<text x="1285.3" y="1013.9" font-size="20.0" fill="#222" textLength="36.7" lengthAdjust="spacingAndGlyphs">with</text>
<text x="1366.3" y="1013.9" font-size="20.0" fill="#222" textLength="73.1" lengthAdjust="spacingAndGlyphs">M-Spike</text>
<text x="1459.4" y="1013.9" font-size="20.0" fill="#222">,</text>
<text x="1469.9" y="1013.9" font-size="20.0" fill="#222" textLength="80.7" lengthAdjust="spacingAndGlyphs">Myeloma</text>
<rect x="1158.6" y="970.4" width="78.0" height="16.9" rx="2.2" fill="#EA7276" stroke="#BE4145" stroke-width="1"/>
<text x="1161.7" y="983.7" font-family="'DejaVu Sans', sans-serif" font-size="14.3" fill="#560B0E" stroke="#560B0E" stroke-width="0.25" textLength="71.8" lengthAdjust="spacingAndGlyphs">Condition</text>
<rect x="1353.9" y="970.4" width="98.8" height="16.9" rx="2.2" fill="#7CE67F" stroke="#3EB342" stroke-width="1"/>
<text x="1357.0" y="983.7" font-family="'DejaVu Sans', sans-serif" font-size="14.3" fill="#08400C" stroke="#08400C" stroke-width="0.25" textLength="92.6" lengthAdjust="spacingAndGlyphs">biomolecule</text>
<rect x="1482.9" y="970.4" width="54.6" height="16.9" rx="2.2" fill="#6DB7F0" stroke="#2E86CF" stroke-width="1"/>
<text x="1486.0" y="983.7" font-family="'DejaVu Sans', sans-serif" font-size="14.3" fill="#072A50" stroke="#072A50" stroke-width="0.25" textLength="48.4" lengthAdjust="spacingAndGlyphs">cancer</text>
<path d="M1236.6 979.2C1243.1 972.1 1245.3 970.1 1253.8 970.1" fill="none" stroke="#111" stroke-width="1.6"/>
<path d="M1337.5 970.1L1347.9 971.3" fill="none" stroke="#111" stroke-width="1.6"/>
<path d="M1354.0 972.3L1345.8 967.9L1347.6 971.3L1345.2 974.7Z" fill="#111"/>
<text x="1254.8" y="973.9" font-family="'DejaVu Sans', sans-serif" font-size="12.5" fill="#333" textLength="81.7" lengthAdjust="spacingAndGlyphs">Modified_by</text>
</g>
<rect x="1137.40" y="1027.90" width="620.20" height="69.50" fill="#FFFFFF" stroke="#111" stroke-width="2.0"/>
<g clip-path="url(#c1)">
<rect x="1143.5" y="1066.2" width="134.5" height="23.0" fill="#FBE2E2"/>
<path d="M1144.5 1066.1C1144.5 1058.8 1210.2 1066.1 1210.2 1058.8C1210.2 1066.1 1277.0 1058.8 1277.0 1066.1" fill="none" stroke="#E9A3A4" stroke-width="1.1"/>
<rect x="1416.9" y="1066.2" width="77.2" height="23.0" fill="#E4F7E2"/>
<path d="M1417.9 1066.1C1417.9 1058.8 1456.2 1066.1 1456.2 1058.8C1456.2 1066.1 1493.1 1058.8 1493.1 1066.1" fill="none" stroke="#A5D9A6" stroke-width="1.1"/>
<rect x="1526.9" y="1066.2" width="91.7" height="23.0" fill="#E0EFFB"/>
<path d="M1527.9 1066.1C1527.9 1058.8 1572.7 1066.1 1572.7 1058.8C1572.7 1066.1 1617.6 1058.8 1617.6 1066.1" fill="none" stroke="#9CC4E4" stroke-width="1.1"/>
<text x="1143.5" y="1084.5" font-size="21.3" fill="#222" textLength="134.5" lengthAdjust="spacingAndGlyphs">enlarged deep</text>
<text x="1282.9" y="1084.5" font-size="21.3" fill="#222" textLength="114.9" lengthAdjust="spacingAndGlyphs">contralateral</text>
<text x="1416.9" y="1084.5" font-size="21.3" fill="#222" textLength="77.2" lengthAdjust="spacingAndGlyphs">M-Spike</text>
<text x="1517.2" y="1084.5" font-size="21.3" fill="#222">,</text>
<text x="1526.9" y="1084.5" font-size="21.3" fill="#222" textLength="91.7" lengthAdjust="spacingAndGlyphs">malignant</text>
<rect x="1168.7" y="1038.7" width="82.9" height="18.1" rx="2.2" fill="#EA7276" stroke="#BE4145" stroke-width="1"/>
<text x="1171.8" y="1052.9" font-family="'DejaVu Sans', sans-serif" font-size="15.3" fill="#560B0E" stroke="#560B0E" stroke-width="0.25" textLength="76.7" lengthAdjust="spacingAndGlyphs">Condition</text>
<rect x="1403.9" y="1038.7" width="104.6" height="18.1" rx="2.2" fill="#7CE67F" stroke="#3EB342" stroke-width="1"/>
<text x="1407.0" y="1052.9" font-family="'DejaVu Sans', sans-serif" font-size="15.3" fill="#08400C" stroke="#08400C" stroke-width="0.25" textLength="98.4" lengthAdjust="spacingAndGlyphs">biomolecule</text>
<rect x="1543.7" y="1038.7" width="58.0" height="18.1" rx="2.2" fill="#6DB7F0" stroke="#2E86CF" stroke-width="1"/>
<text x="1546.8" y="1052.9" font-family="'DejaVu Sans', sans-serif" font-size="15.3" fill="#072A50" stroke="#072A50" stroke-width="0.25" textLength="51.8" lengthAdjust="spacingAndGlyphs">cancer</text>
<path d="M1251.6 1048.1C1258.1 1040.4 1276.3 1038.4 1284.8 1038.4" fill="none" stroke="#111" stroke-width="1.6"/>
<path d="M1372.2 1038.4L1397.9 1039.6" fill="none" stroke="#111" stroke-width="1.6"/>
<path d="M1404.0 1040.6L1395.8 1036.2L1397.6 1039.6L1395.2 1043.0Z" fill="#111"/>
<text x="1285.8" y="1042.5" font-family="'DejaVu Sans', sans-serif" font-size="13.4" fill="#333" textLength="85.4" lengthAdjust="spacingAndGlyphs">Modified_by</text>
</g>
<rect x="1137.40" y="1104.70" width="620.20" height="66.60" fill="#FFFFFF" stroke="#111" stroke-width="2.0"/>
<g clip-path="url(#c2)">
<rect x="1142.0" y="1146.1" width="112.6" height="21.2" fill="#FBE2E2"/>
<path d="M1143.0 1145.2C1143.0 1138.6 1198.0 1145.2 1198.0 1138.6C1198.0 1145.2 1253.6 1138.6 1253.6 1145.2" fill="none" stroke="#E9A3A4" stroke-width="1.1"/>
<rect x="1358.2" y="1146.1" width="76.5" height="21.2" fill="#E4F7E2"/>
<path d="M1359.2 1145.2C1359.2 1138.6 1397.7 1145.2 1397.7 1138.6C1397.7 1145.2 1433.7 1138.6 1433.7 1145.2" fill="none" stroke="#A5D9A6" stroke-width="1.1"/>
<rect x="1451.6" y="1146.1" width="80.2" height="21.2" fill="#E0EFFB"/>
<path d="M1452.6 1145.2C1452.6 1138.6 1491.8 1145.2 1491.8 1138.6C1491.8 1145.2 1530.8 1138.6 1530.8 1145.2" fill="none" stroke="#9CC4E4" stroke-width="1.1"/>
<text x="1142.0" y="1163.0" font-size="19.6" fill="#222" textLength="112.6" lengthAdjust="spacingAndGlyphs">Lesions Lytic</text>
<text x="1283.2" y="1163.0" font-size="19.6" fill="#222" textLength="35.9" lengthAdjust="spacingAndGlyphs">with</text>
<text x="1358.2" y="1163.0" font-size="19.6" fill="#222" textLength="82.4" lengthAdjust="spacingAndGlyphs">Spike -M,</text>
<text x="1451.6" y="1163.0" font-size="19.6" fill="#222" textLength="80.2" lengthAdjust="spacingAndGlyphs">Myeloma</text>
<rect x="1159.4" y="1120.4" width="77.2" height="16.3" rx="2.2" fill="#EA7276" stroke="#BE4145" stroke-width="1"/>
<text x="1162.5" y="1133.2" font-family="'DejaVu Sans', sans-serif" font-size="13.8" fill="#560B0E" stroke="#560B0E" stroke-width="0.25" textLength="71.0" lengthAdjust="spacingAndGlyphs">Condition</text>
<rect x="1349.0" y="1120.4" width="97.3" height="16.3" rx="2.2" fill="#7CE67F" stroke="#3EB342" stroke-width="1"/>
<text x="1352.1" y="1133.2" font-family="'DejaVu Sans', sans-serif" font-size="13.8" fill="#08400C" stroke="#08400C" stroke-width="0.25" textLength="91.1" lengthAdjust="spacingAndGlyphs">biomolecule</text>
<rect x="1464.7" y="1120.4" width="54.3" height="16.3" rx="2.2" fill="#6DB7F0" stroke="#2E86CF" stroke-width="1"/>
<text x="1467.8" y="1133.2" font-family="'DejaVu Sans', sans-serif" font-size="13.8" fill="#072A50" stroke="#072A50" stroke-width="0.25" textLength="48.1" lengthAdjust="spacingAndGlyphs">cancer</text>
<path d="M1236.6 1128.9C1243.1 1122.1 1243.8 1120.1 1252.3 1120.1" fill="none" stroke="#111" stroke-width="1.6"/>
<path d="M1334.0 1120.1L1343.0 1121.3" fill="none" stroke="#111" stroke-width="1.6"/>
<path d="M1349.1 1122.3L1340.9 1117.9L1342.7 1121.3L1340.3 1124.7Z" fill="#111"/>
<text x="1253.3" y="1123.6" font-family="'DejaVu Sans', sans-serif" font-size="12.1" fill="#333" textLength="79.7" lengthAdjust="spacingAndGlyphs">Modified_by</text>
</g>
<rect x="1137.40" y="1177.90" width="620.20" height="75.20" fill="#FFFFFF" stroke="#111" stroke-width="2.0"/>
<g clip-path="url(#c3)">
<rect x="1144.9" y="1223.9" width="74.9" height="24.1" fill="#FBE2E2"/>
<path d="M1145.9 1223.9C1145.9 1216.4 1184.7 1223.9 1184.7 1216.4C1184.7 1223.9 1218.8 1216.4 1218.8 1223.9" fill="none" stroke="#E9A3A4" stroke-width="1.1"/>
<rect x="1372.6" y="1223.9" width="81.0" height="24.1" fill="#E4F7E2"/>
<path d="M1373.6 1223.9C1373.6 1216.4 1413.5 1223.9 1413.5 1216.4C1413.5 1223.9 1452.6 1216.4 1452.6 1223.9" fill="none" stroke="#A5D9A6" stroke-width="1.1"/>
<rect x="1487.8" y="1223.9" width="268.2" height="24.1" fill="#E0EFFB"/>
<path d="M1488.8 1223.9C1488.8 1216.4 1621.6 1223.9 1621.6 1216.4C1621.6 1223.9 1755.0 1216.4 1755.0 1223.9" fill="none" stroke="#9CC4E4" stroke-width="1.1"/>
<text x="1144.9" y="1243.1" font-size="22.3" fill="#222" textLength="74.9" lengthAdjust="spacingAndGlyphs">Anemia</text>
<text x="1273.1" y="1243.1" font-size="22.3" fill="#222" textLength="40.2" lengthAdjust="spacingAndGlyphs">with</text>
<text x="1372.6" y="1243.1" font-size="22.3" fill="#222" textLength="81.0" lengthAdjust="spacingAndGlyphs">M-Spike</text>
<text x="1475.9" y="1243.1" font-size="22.3" fill="#222">,</text>
<text x="1487.8" y="1243.1" font-size="22.3" fill="#222" textLength="268.2" lengthAdjust="spacingAndGlyphs">lymphoproliferative disorder</text>
<rect x="1141.2" y="1195.6" width="87.0" height="18.7" rx="2.2" fill="#EA7276" stroke="#BE4145" stroke-width="1"/>
<text x="1144.3" y="1210.3" font-family="'DejaVu Sans', sans-serif" font-size="15.8" fill="#560B0E" stroke="#560B0E" stroke-width="0.25" textLength="80.8" lengthAdjust="spacingAndGlyphs">Condition</text>
<rect x="1358.5" y="1195.6" width="110.1" height="18.7" rx="2.2" fill="#7CE67F" stroke="#3EB342" stroke-width="1"/>
<text x="1361.6" y="1210.3" font-family="'DejaVu Sans', sans-serif" font-size="15.8" fill="#08400C" stroke="#08400C" stroke-width="0.25" textLength="103.9" lengthAdjust="spacingAndGlyphs">biomolecule</text>
<rect x="1591.1" y="1195.6" width="61.0" height="18.7" rx="2.2" fill="#6DB7F0" stroke="#2E86CF" stroke-width="1"/>
<text x="1594.2" y="1210.3" font-family="'DejaVu Sans', sans-serif" font-size="15.8" fill="#072A50" stroke="#072A50" stroke-width="0.25" textLength="54.8" lengthAdjust="spacingAndGlyphs">cancer</text>
<path d="M1228.2 1205.3C1234.7 1197.3 1239.2 1195.3 1247.7 1195.3" fill="none" stroke="#111" stroke-width="1.6"/>
<path d="M1339.8 1195.3L1352.5 1196.5" fill="none" stroke="#111" stroke-width="1.6"/>
<path d="M1358.6 1197.5L1350.4 1193.1L1352.2 1196.5L1349.8 1199.9Z" fill="#111"/>
<text x="1248.7" y="1199.7" font-family="'DejaVu Sans', sans-serif" font-size="13.8" fill="#333" textLength="90.1" lengthAdjust="spacingAndGlyphs">Modified_by</text>
</g>
<rect x="1137.40" y="1260.50" width="620.20" height="71.00" fill="#EEEEEE" stroke="#111" stroke-width="2.0"/>
<g clip-path="url(#c4)">
<rect x="1139.7" y="1307.5" width="249.7" height="21.6" fill="#FBE2E2"/>
<path d="M1140.7 1306.8C1140.7 1300.0 1264.6 1306.8 1264.6 1300.0C1264.6 1306.8 1388.4 1300.0 1388.4 1306.8" fill="none" stroke="#E9A3A4" stroke-width="1.1"/>
<rect x="1447.9" y="1307.5" width="72.9" height="21.6" fill="#E4F7E2"/>
<path d="M1448.9 1306.8C1448.9 1300.0 1485.2 1306.8 1485.2 1300.0C1485.2 1306.8 1519.8 1300.0 1519.8 1306.8" fill="none" stroke="#A5D9A6" stroke-width="1.1"/>
<rect x="1551.5" y="1307.5" width="201.6" height="21.6" fill="#E0EFFB"/>
<path d="M1552.5 1306.8C1552.5 1300.0 1652.0 1306.8 1652.0 1300.0C1652.0 1306.8 1752.1 1300.0 1752.1 1306.8" fill="none" stroke="#9CC4E4" stroke-width="1.1"/>
<text x="1139.7" y="1324.7" font-size="20.0" fill="#222" textLength="249.7" lengthAdjust="spacingAndGlyphs">Lytic Metastatic Bone Lesion</text>
<text x="1393.8" y="1324.7" font-size="20.0" fill="#222" textLength="36.1" lengthAdjust="spacingAndGlyphs">with</text>
<text x="1447.9" y="1324.7" font-size="20.0" fill="#222" textLength="72.9" lengthAdjust="spacingAndGlyphs">M-Spike</text>
<text x="1541.8" y="1324.7" font-size="20.0" fill="#222">,</text>
<text x="1551.5" y="1324.7" font-size="20.0" fill="#222" textLength="201.6" lengthAdjust="spacingAndGlyphs">Leukemia, Plasma Cell</text>
<rect x="1225.4" y="1281.2" width="78.3" height="16.9" rx="2.2" fill="#EA7276" stroke="#BE4145" stroke-width="1"/>
<text x="1228.5" y="1294.5" font-family="'DejaVu Sans', sans-serif" font-size="14.3" fill="#560B0E" stroke="#560B0E" stroke-width="0.25" textLength="72.1" lengthAdjust="spacingAndGlyphs">Condition</text>
<rect x="1435.8" y="1281.2" width="98.8" height="16.9" rx="2.2" fill="#7CE67F" stroke="#3EB342" stroke-width="1"/>
<text x="1438.9" y="1294.5" font-family="'DejaVu Sans', sans-serif" font-size="14.3" fill="#08400C" stroke="#08400C" stroke-width="0.25" textLength="92.6" lengthAdjust="spacingAndGlyphs">biomolecule</text>
<rect x="1624.7" y="1281.2" width="54.6" height="16.9" rx="2.2" fill="#6DB7F0" stroke="#2E86CF" stroke-width="1"/>
<text x="1627.8" y="1294.5" font-family="'DejaVu Sans', sans-serif" font-size="14.3" fill="#072A50" stroke="#072A50" stroke-width="0.25" textLength="48.4" lengthAdjust="spacingAndGlyphs">cancer</text>
<path d="M1303.7 1290.0C1310.2 1282.9 1319.7 1280.9 1328.2 1280.9" fill="none" stroke="#111" stroke-width="1.6"/>
<path d="M1411.6 1280.9L1429.8 1282.1" fill="none" stroke="#111" stroke-width="1.6"/>
<path d="M1435.9 1283.1L1427.7 1278.7L1429.5 1282.1L1427.1 1285.5Z" fill="#111"/>
<text x="1329.2" y="1284.7" font-family="'DejaVu Sans', sans-serif" font-size="12.5" fill="#333" textLength="81.4" lengthAdjust="spacingAndGlyphs">Modified_by</text>
</g>
<rect x="1137.40" y="1337.20" width="620.20" height="61.70" fill="#EEEEEE" stroke="#111" stroke-width="2.0"/>
<g clip-path="url(#c5)">
<rect x="1143.5" y="1376.6" width="98.9" height="21.6" fill="#FBE2E2"/>
<path d="M1144.5 1376.4C1144.5 1369.5 1192.8 1376.4 1192.8 1369.5C1192.8 1376.4 1241.4 1369.5 1241.4 1376.4" fill="none" stroke="#E9A3A4" stroke-width="1.1"/>
<rect x="1361.4" y="1376.6" width="72.8" height="21.6" fill="#E4F7E2"/>
<path d="M1362.4 1376.4C1362.4 1369.5 1398.4 1376.4 1398.4 1369.5C1398.4 1376.4 1433.2 1369.5 1433.2 1376.4" fill="none" stroke="#A5D9A6" stroke-width="1.1"/>
<rect x="1464.6" y="1376.6" width="188.7" height="21.6" fill="#E0EFFB"/>
<path d="M1465.6 1376.4C1465.6 1369.5 1558.4 1376.4 1558.4 1369.5C1558.4 1376.4 1652.3 1369.5 1652.3 1376.4" fill="none" stroke="#9CC4E4" stroke-width="1.1"/>
<text x="1143.5" y="1393.8" font-size="20.0" fill="#222" textLength="98.9" lengthAdjust="spacingAndGlyphs">SKELETAL</text>
<text x="1276.6" y="1393.8" font-size="20.0" fill="#222" textLength="36.7" lengthAdjust="spacingAndGlyphs">with</text>
<text x="1361.4" y="1393.8" font-size="20.0" fill="#222" textLength="72.8" lengthAdjust="spacingAndGlyphs">M-Spike</text>
<text x="1455.0" y="1393.8" font-size="20.0" fill="#222">,</text>
<text x="1464.6" y="1393.8" font-size="20.0" fill="#222" textLength="188.7" lengthAdjust="spacingAndGlyphs">Hemostatic Disorders</text>
<rect x="1153.6" y="1350.6" width="78.3" height="17.0" rx="2.2" fill="#EA7276" stroke="#BE4145" stroke-width="1"/>
<text x="1156.7" y="1364.0" font-family="'DejaVu Sans', sans-serif" font-size="14.4" fill="#560B0E" stroke="#560B0E" stroke-width="0.25" textLength="72.1" lengthAdjust="spacingAndGlyphs">Condition</text>
<rect x="1349.0" y="1350.6" width="98.8" height="17.0" rx="2.2" fill="#7CE67F" stroke="#3EB342" stroke-width="1"/>
<text x="1352.1" y="1364.0" font-family="'DejaVu Sans', sans-serif" font-size="14.4" fill="#08400C" stroke="#08400C" stroke-width="0.25" textLength="92.6" lengthAdjust="spacingAndGlyphs">biomolecule</text>
<rect x="1531.3" y="1350.6" width="54.2" height="17.0" rx="2.2" fill="#6DB7F0" stroke="#2E86CF" stroke-width="1"/>
<text x="1534.4" y="1364.0" font-family="'DejaVu Sans', sans-serif" font-size="14.4" fill="#072A50" stroke="#072A50" stroke-width="0.25" textLength="48.0" lengthAdjust="spacingAndGlyphs">cancer</text>
<path d="M1231.9 1359.5C1238.4 1352.3 1241.0 1350.3 1249.5 1350.3" fill="none" stroke="#111" stroke-width="1.6"/>
<path d="M1332.0 1350.3L1343.0 1351.5" fill="none" stroke="#111" stroke-width="1.6"/>
<path d="M1349.1 1352.5L1340.9 1348.1L1342.7 1351.5L1340.3 1354.9Z" fill="#111"/>
<text x="1250.5" y="1354.2" font-family="'DejaVu Sans', sans-serif" font-size="12.6" fill="#333" textLength="80.5" lengthAdjust="spacingAndGlyphs">Modified_by</text>
</g>
<rect x="1137.40" y="1405.80" width="620.20" height="60.80" fill="#EEEEEE" stroke="#111" stroke-width="2.0"/>
<g clip-path="url(#c6)">
<rect x="1142.0" y="1446.9" width="155.4" height="21.6" fill="#FBE2E2"/>
<path d="M1143.0 1447.1C1143.0 1440.3 1220.2 1447.1 1220.2 1440.3C1220.2 1447.1 1296.4 1440.3 1296.4 1447.1" fill="none" stroke="#E9A3A4" stroke-width="1.1"/>
<rect x="1388.8" y="1446.9" width="72.9" height="21.6" fill="#E4F7E2"/>
<path d="M1389.8 1447.1C1389.8 1440.3 1425.9 1447.1 1425.9 1440.3C1425.9 1447.1 1460.7 1440.3 1460.7 1447.1" fill="none" stroke="#A5D9A6" stroke-width="1.1"/>
<rect x="1492.1" y="1446.9" width="204.6" height="21.6" fill="#E0EFFB"/>
<path d="M1493.1 1447.1C1493.1 1440.3 1594.7 1447.1 1594.7 1440.3C1594.7 1447.1 1695.7 1440.3 1695.7 1447.1" fill="none" stroke="#9CC4E4" stroke-width="1.1"/>
<text x="1142.0" y="1464.1" font-size="20.0" fill="#222" textLength="155.4" lengthAdjust="spacingAndGlyphs">Lytic Bone Lesion</text>
<text x="1318.5" y="1464.1" font-size="20.0" fill="#222" textLength="36.2" lengthAdjust="spacingAndGlyphs">with</text>
<text x="1388.8" y="1464.1" font-size="20.0" fill="#222" textLength="72.9" lengthAdjust="spacingAndGlyphs">M-Spike</text>
<text x="1483.1" y="1464.1" font-size="20.0" fill="#222">,</text>
<text x="1492.1" y="1464.1" font-size="20.0" fill="#222" textLength="204.6" lengthAdjust="spacingAndGlyphs">MYELOMA, MULTIPLE</text>
<rect x="1181.1" y="1421.5" width="78.3" height="16.9" rx="2.2" fill="#EA7276" stroke="#BE4145" stroke-width="1"/>
<text x="1184.2" y="1434.8" font-family="'DejaVu Sans', sans-serif" font-size="14.3" fill="#560B0E" stroke="#560B0E" stroke-width="0.25" textLength="72.1" lengthAdjust="spacingAndGlyphs">Condition</text>
<rect x="1376.5" y="1421.5" width="98.8" height="16.9" rx="2.2" fill="#7CE67F" stroke="#3EB342" stroke-width="1"/>
<text x="1379.6" y="1434.8" font-family="'DejaVu Sans', sans-serif" font-size="14.3" fill="#08400C" stroke="#08400C" stroke-width="0.25" textLength="92.6" lengthAdjust="spacingAndGlyphs">biomolecule</text>
<rect x="1567.4" y="1421.5" width="54.6" height="16.9" rx="2.2" fill="#6DB7F0" stroke="#2E86CF" stroke-width="1"/>
<text x="1570.5" y="1434.8" font-family="'DejaVu Sans', sans-serif" font-size="14.3" fill="#072A50" stroke="#072A50" stroke-width="0.25" textLength="48.4" lengthAdjust="spacingAndGlyphs">cancer</text>
<path d="M1259.4 1430.3C1265.9 1423.2 1268.4 1421.2 1276.9 1421.2" fill="none" stroke="#111" stroke-width="1.6"/>
<path d="M1360.1 1421.2L1370.5 1422.4" fill="none" stroke="#111" stroke-width="1.6"/>
<path d="M1376.6 1423.4L1368.4 1419.0L1370.2 1422.4L1367.8 1425.8Z" fill="#111"/>
<text x="1277.9" y="1424.8" font-family="'DejaVu Sans', sans-serif" font-size="12.5" fill="#333" textLength="81.2" lengthAdjust="spacingAndGlyphs">Modified_by</text>
</g>
</svg>
<svg style="position:absolute;left:2200px;top:1785px" width="340" height="110" viewBox="2200 1785 340 110">
<circle cx="2250.2" cy="1837.1" r="40.6" fill="#4CCDF4"/>
<circle cx="2256.6" cy="1833.4" r="30.2" fill="#2F9BE6"/>
<circle cx="2260.6" cy="1831.3" r="23.4" fill="#3D5BE8"/>
<text x="2305.3" y="1854" font-family="'Liberation Sans', sans-serif" font-weight="bold" font-size="62" fill="#231F20" textLength="214" lengthAdjust="spacingAndGlyphs">labcorp</text>
</svg>
</body></html>
